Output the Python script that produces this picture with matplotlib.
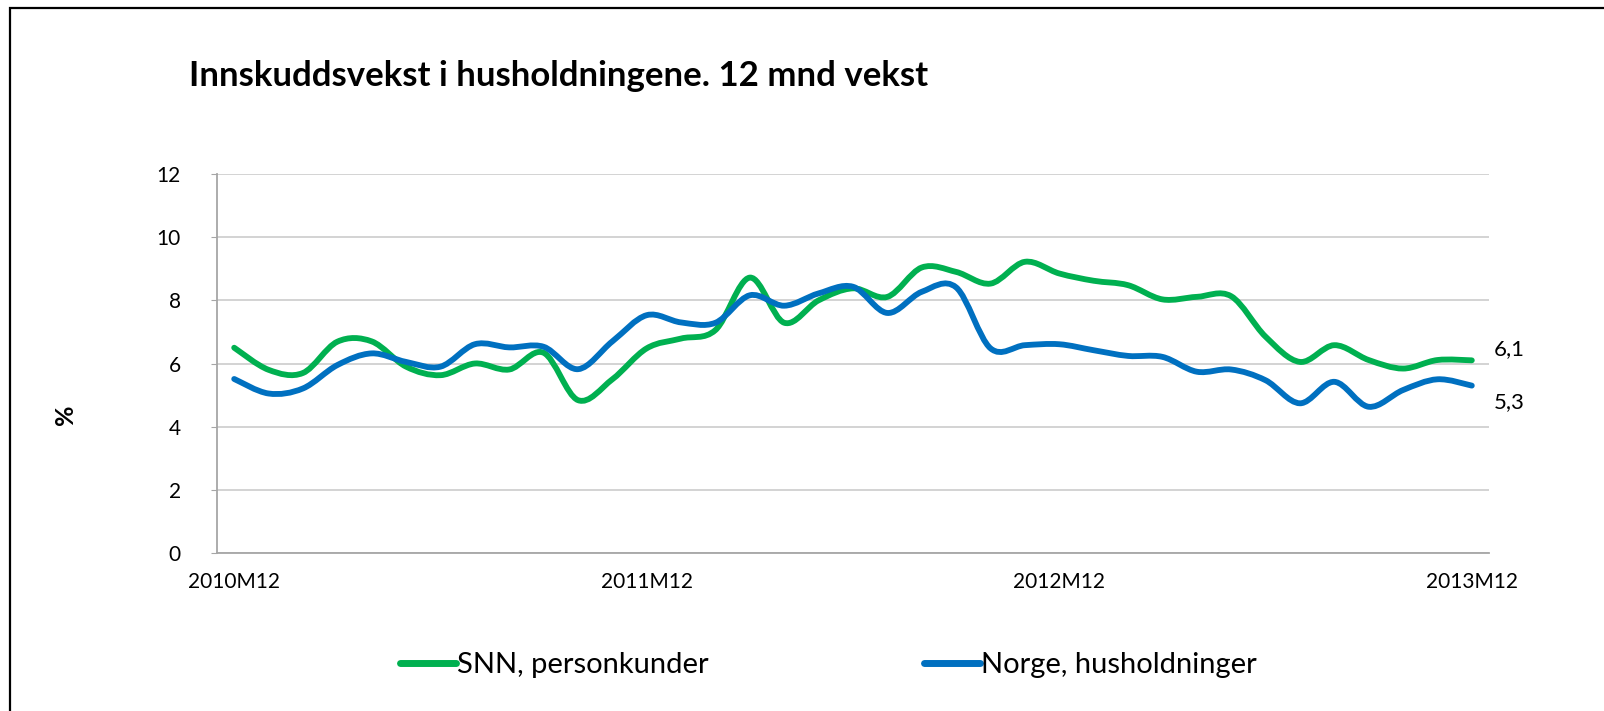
import numpy as np
import matplotlib.pyplot as plt
from matplotlib.path import Path
from matplotlib.patches import PathPatch, Rectangle
from matplotlib.lines import Line2D

# =========================================================
# data
# =========================================================
months = ["2010M12"] + [f"2011M{m}" for m in range(1, 13)] \
    + [f"2012M{m}" for m in range(1, 13)] + [f"2013M{m}" for m in range(1, 13)]
tick_labels = ["2010M12", "2011M12", "2012M12", "2013M12"]

snn = [6.50, 5.80, 5.70, 6.69, 6.70, 5.90, 5.63, 6.00, 5.81, 6.34, 4.84, 5.50,
       6.48, 6.79, 7.06, 8.72, 7.29, 8.00, 8.38, 8.11, 9.04, 8.90, 8.53, 9.22,
       8.85, 8.62, 8.48, 8.03, 8.11, 8.13, 6.85, 6.05, 6.58, 6.11, 5.84, 6.11, 6.10]
norge = [5.51, 5.05, 5.21, 5.95, 6.32, 6.05, 5.90, 6.61, 6.51, 6.53, 5.82, 6.70,
         7.53, 7.30, 7.29, 8.16, 7.83, 8.22, 8.43, 7.60, 8.27, 8.41, 6.48, 6.58,
         6.61, 6.42, 6.24, 6.21, 5.74, 5.81, 5.47, 4.74, 5.42, 4.63, 5.16, 5.50, 5.30]

green = "#00B050"
blue = "#0070C0"
font = "Lato"


# smoothed line like the spreadsheet: cubic bezier through every point
def smooth_path(y):
    x = np.arange(len(y), dtype=float)
    y = np.asarray(y, dtype=float)
    verts = [(x[0], y[0])]
    codes = [Path.MOVETO]
    n = len(y)
    for i in range(n - 1):
        p0 = i - 1 if i > 0 else i
        p3 = i + 2 if i + 2 < n else i + 1
        c1 = (x[i] + (x[i + 1] - x[p0]) / 6, y[i] + (y[i + 1] - y[p0]) / 6)
        c2 = (x[i + 1] - (x[p3] - x[i]) / 6, y[i + 1] - (y[p3] - y[i]) / 6)
        verts += [c1, c2, (x[i + 1], y[i + 1])]
        codes += [Path.CURVE4] * 3
    return Path(verts, codes)


# =========================================================
# plotting
# =========================================================
fig = plt.figure(figsize=(16.04, 7.11), dpi=100)
ax = fig.add_axes([217 / 1604, 1 - 553 / 711, 1272 / 1604, 379 / 711])

for series, color in [(snn, green), (norge, blue)]:
    ax.add_patch(PathPatch(smooth_path(series), facecolor="none",
                           edgecolor=color, lw=4.2, capstyle="round",
                           joinstyle="round", zorder=3))

ax.set_xlim(-0.5, len(months) - 0.5)
ax.set_ylim(0, 12)
ax.set_yticks(range(0, 13, 2))
ax.set_xticks([months.index(t) for t in tick_labels])
ax.set_xticklabels(tick_labels, fontsize=15, family=font)
ax.tick_params(axis="x", length=0, pad=14)
ax.tick_params(axis="y", length=4, color="#a6a6a6", pad=22, labelsize=15)
for lab in ax.get_yticklabels():
    lab.set_family(font)
ax.grid(axis="y", color="#d0d0d0", lw=1.3)
ax.set_axisbelow(True)
for side in ["top", "right"]:
    ax.spines[side].set_visible(False)
for side in ["left", "bottom"]:
    ax.spines[side].set_color("#a6a6a6")
    ax.spines[side].set_linewidth(1.3)

# end value labels
ax.annotate("6,1", (36, snn[-1]), xytext=(16, 8), textcoords="offset points",
            fontsize=16, family=font, va="center", ha="left")
ax.annotate("5,3", (36, norge[-1]), xytext=(16, -12), textcoords="offset points",
            fontsize=16, family=font, va="center", ha="left")

fig.text(65 / 1604, 1 - 415 / 711, "%", rotation=90, fontsize=18,
         fontweight="bold", family=font, ha="center", va="center")
fig.text(189 / 1604, 1 - 76 / 711, "Innskuddsvekst i husholdningene. 12 mnd vekst",
         fontsize=25, fontweight="bold", family=font, ha="left", va="center")

handles = [Line2D([], [], color=green, lw=5, solid_capstyle="round"),
           Line2D([], [], color=blue, lw=5, solid_capstyle="round")]
fig.legend(handles, ["SNN, personkunder", "Norge, husholdninger"],
           loc="center", bbox_to_anchor=(0.5166, 1 - 665 / 711), ncol=2,
           frameon=False, prop={"family": font, "size": 21},
           handlelength=1.9, handletextpad=0.05, columnspacing=7.4)

# chart border
fig.add_artist(Rectangle((10 / 1604, -0.1), 1.2, 1.1 - 8 / 711,
                         transform=fig.transFigure, fill=False,
                         edgecolor="black", lw=1.6))

fig.savefig("out.png", dpi=100)
